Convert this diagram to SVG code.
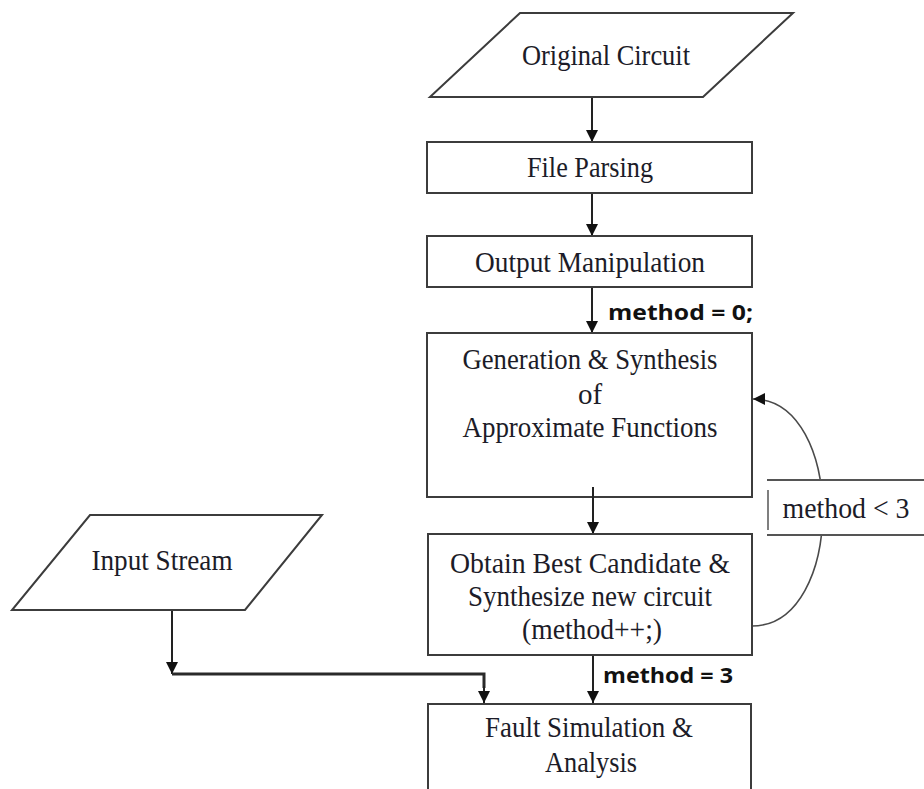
<svg xmlns="http://www.w3.org/2000/svg" width="924" height="789" viewBox="0 0 924 789">
  <style>
    .shape { fill: #ffffff; stroke: #3c3c3c; stroke-width: 2; }
    .label { font-family: "Liberation Serif", "Times New Roman", serif; font-size: 29px; fill: #1c1c28; text-anchor: middle; }
    .cond { font-family: "Open Sans", "Liberation Sans", sans-serif; font-weight: 700; font-size: 22px; fill: #111111; }
    .flow { fill: none; stroke: #222222; stroke-width: 2; }
    .flow-thick { fill: none; stroke: #2a2a2a; stroke-width: 3; }
    .loop { fill: none; stroke: #4a4a4a; stroke-width: 1.6; }
  </style>
  <defs>
    <marker id="arrow" markerUnits="userSpaceOnUse" markerWidth="14" markerHeight="14" refX="12" refY="6" orient="auto">
      <path d="M0,0 L12,6 L0,12 Z" fill="#111111"/>
    </marker>
  </defs>

  <rect width="924" height="789" fill="#ffffff"/>

  <!-- connectors -->
  <g id="connectors">
    <line class="flow" x1="592" y1="97" x2="592" y2="142" marker-end="url(#arrow)"/>
    <line class="flow" x1="592" y1="193" x2="592" y2="236" marker-end="url(#arrow)"/>
    <line class="flow" x1="592" y1="287" x2="592" y2="333" marker-end="url(#arrow)"/>
    <line class="flow" x1="593" y1="487" x2="593" y2="534" marker-end="url(#arrow)"/>
    <line class="flow" x1="593" y1="655" x2="593" y2="703" marker-end="url(#arrow)"/>
    <line class="flow" x1="172" y1="610" x2="172" y2="674" marker-end="url(#arrow)"/>
    <polyline class="flow-thick" points="172,674 484,674 484,688"/>
    <line class="flow" x1="484" y1="686" x2="484" y2="703" marker-end="url(#arrow)"/>
    <!-- loop back while method < 3 -->
    <path class="loop" d="M752,626 C846,626 846,399 753,399" marker-end="url(#arrow)"/>
    <!-- condition label on the loop -->
    <rect x="767" y="480" width="160" height="55" fill="#ffffff"/>
    <line x1="767" y1="480" x2="924" y2="480" stroke="#555555" stroke-width="2"/>
    <line x1="767" y1="535" x2="924" y2="535" stroke="#555555" stroke-width="2"/>
    <line x1="768" y1="490" x2="768" y2="530" stroke="#555555" stroke-width="1.5"/>
    <text class="label" x="846" y="518" textLength="127" lengthAdjust="spacingAndGlyphs">method &lt; 3</text>
    <text class="cond" x="608" y="320" textLength="145" lengthAdjust="spacingAndGlyphs">method = 0;</text>
    <text class="cond" x="603" y="683" textLength="130" lengthAdjust="spacingAndGlyphs">method = 3</text>
  </g>

  <g id="original-circuit">
    <polygon class="shape" points="520,13 793,13 703,97 430,97"/>
    <text class="label" x="606" y="65" textLength="168" lengthAdjust="spacingAndGlyphs">Original Circuit</text>
  </g>

  <g id="file-parsing">
    <rect class="shape" x="427" y="142" width="325" height="51"/>
    <text class="label" x="590" y="177" textLength="126" lengthAdjust="spacingAndGlyphs">File Parsing</text>
  </g>

  <g id="output-manipulation">
    <rect class="shape" x="427" y="236" width="325" height="51"/>
    <text class="label" x="590" y="272" textLength="230" lengthAdjust="spacingAndGlyphs">Output Manipulation</text>
  </g>

  <g id="generation">
    <rect class="shape" x="427" y="333" width="325" height="164"/>
    <text class="label" x="590" y="369" textLength="255" lengthAdjust="spacingAndGlyphs">Generation &amp; Synthesis</text>
    <text class="label" x="590" y="404">of</text>
    <text class="label" x="590" y="437" textLength="255" lengthAdjust="spacingAndGlyphs">Approximate Functions</text>
  </g>
  <!-- downward line starts just inside the generation box -->
  <line x1="593" y1="487" x2="593" y2="498" stroke="#222222" stroke-width="2"/>

  <g id="obtain-best">
    <rect class="shape" x="428" y="534" width="324" height="121"/>
    <text class="label" x="590" y="573" textLength="280" lengthAdjust="spacingAndGlyphs">Obtain Best Candidate &amp;</text>
    <text class="label" x="590" y="606" textLength="244" lengthAdjust="spacingAndGlyphs">Synthesize new circuit</text>
    <text class="label" x="592" y="639" textLength="140" lengthAdjust="spacingAndGlyphs">(method++;)</text>
  </g>

  <g id="input-stream">
    <polygon class="shape" points="90,515 322,515 245,610 12,610"/>
    <text class="label" x="162" y="570" textLength="141" lengthAdjust="spacingAndGlyphs">Input Stream</text>
  </g>

  <g id="fault-simulation">
    <rect class="shape" x="428" y="704" width="323" height="100"/>
    <text class="label" x="589" y="737" textLength="208" lengthAdjust="spacingAndGlyphs">Fault Simulation &amp;</text>
    <text class="label" x="591" y="772" textLength="92" lengthAdjust="spacingAndGlyphs">Analysis</text>
  </g>
</svg>
